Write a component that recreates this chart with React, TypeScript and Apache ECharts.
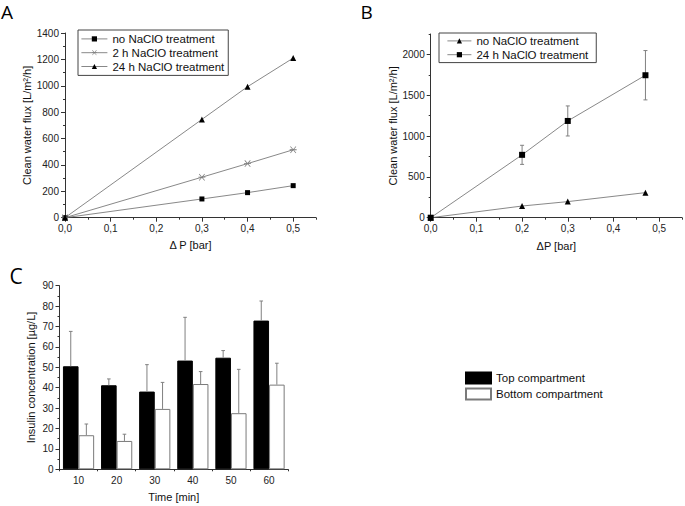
import React, { useEffect, useRef } from "react";
import * as echarts from "echarts";

// Panel A data
const pressureA = [0, 0.3, 0.4, 0.5];
const fluxNoA = [0, 142, 190, 243];
const flux2hA = [0, 307, 410, 515];
const flux24hA = [0, 745, 993, 1210];

// Panel B data
const pressureB = [0, 0.2, 0.3, 0.47];
const fluxNoB = [0, 143, 197, 307];
const flux24hB = [0, 770, 1185, 1745];
const err24hB = [0, 117, 184, 302];

// Panel C data
const timeCats = ["10", "20", "30", "40", "50", "60"];
const topVals = [50.5, 41.2, 38.1, 53.3, 54.7, 72.9];
const topErr = [17.1, 3.1, 13.2, 21.2, 3.5, 9.6];
const bottomVals = [16.7, 13.9, 29.6, 41.8, 27.5, 41.5];
const bottomErr = [5.5, 3.3, 13.0, 6.1, 21.5, 10.5];

// Tick labels
const xTicksAB = [0, 0.1, 0.2, 0.3, 0.4, 0.5];
const yTicksB = [0, 500, 1000, 1500, 2000];

const FONT = "'Liberation Sans', Arial, sans-serif";
const AX = "#333";

const ASTERISK =
  "path://M-0.87,-0.73 L0.73,0.87 L0.87,0.73 L-0.73,-0.87 Z M-0.87,0.73 L0.73,-0.87 L0.87,-0.73 L-0.73,0.87 Z M-1,-0.1 L1,-0.1 L1,0.1 L-1,0.1 Z";

const zip = (xs: number[], ys: number[]) => xs.map((x, i) => [x, ys[i]]);
const isMult = (v: number, step: number) =>
  Math.abs(v / step - Math.round(v / step)) < 1e-6;
const comma = (v: number) => v.toFixed(1).replace(".", ",");

function errRender(offsetPx: number, both: boolean, capHalf: number) {
  return (params: any, api: any) => {
    const x = api.value(0);
    const y = api.value(1);
    const e = api.value(2);
    if (!e) return null;
    const top = api.coord([x, y + e]);
    const base = api.coord([x, both ? y - e : y]);
    const cx = top[0] + offsetPx;
    const st = { stroke: "#808080", lineWidth: 1 };
    const children: any[] = [
      { type: "line", shape: { x1: cx, y1: top[1], x2: cx, y2: base[1] }, style: st },
      { type: "line", shape: { x1: cx - capHalf, y1: top[1], x2: cx + capHalf, y2: top[1] }, style: st },
    ];
    if (both) {
      children.push({
        type: "line",
        shape: { x1: cx - capHalf, y1: base[1], x2: cx + capHalf, y2: base[1] },
        style: st,
      });
    }
    return { type: "group", children };
  };
}

const labelStyle = { fontSize: 10, color: "#222", fontFamily: FONT };
const nameStyle = { fontSize: 11, color: "#111", fontFamily: FONT };
const lineAx = { lineStyle: { color: AX, width: 1 } };
const legendText = { fontSize: 11.5, lineHeight: 13.8, color: "#111", fontFamily: FONT };

export default function App() {
  const ref = useRef<HTMLDivElement>(null);
  useEffect(() => {
    if (!ref.current) return;
    const chart = echarts.init(ref.current, undefined, { renderer: "svg" });
    const barW = 15.6;
    const option: any = {
      animation: false,
      backgroundColor: "#fff",
      textStyle: { fontFamily: FONT },
      grid: [
        { left: 65, top: 33, width: 251, height: 184.7 },
        { left: 430.7, top: 34, width: 251.5, height: 183.7 },
        { left: 59.5, top: 285.7, width: 228.6, height: 183.6 },
      ],
      xAxis: [
        {
          type: "value", gridIndex: 0, min: 0, max: 0.55, interval: 0.05,
          axisLine: lineAx, splitLine: { show: false },
          axisTick: { length: 2, lineStyle: { color: AX } },
          axisLabel: { ...labelStyle, margin: 6, formatter: (v: number) => (isMult(v, 0.1) && v < 0.52 ? comma(v) : "") },
          name: "Δ P [bar]", nameLocation: "middle", nameGap: 22, nameTextStyle: nameStyle,
        },
        {
          type: "value", gridIndex: 0, min: 0, max: 0.55, interval: 0.1, position: "bottom",
          axisLine: { show: false }, splitLine: { show: false }, axisLabel: { show: false },
          axisTick: { show: true, length: 4, lineStyle: { color: AX }, customValues: xTicksAB },
        },
        {
          type: "value", gridIndex: 1, min: 0, max: 0.55, interval: 0.05,
          axisLine: lineAx, splitLine: { show: false },
          axisTick: { length: 2, lineStyle: { color: AX } },
          axisLabel: { ...labelStyle, margin: 6, formatter: (v: number) => (isMult(v, 0.1) && v < 0.52 ? comma(v) : "") },
          name: "ΔP [bar]", nameLocation: "middle", nameGap: 23, nameTextStyle: nameStyle,
        },
        {
          type: "value", gridIndex: 1, min: 0, max: 0.55, interval: 0.1, position: "bottom",
          axisLine: { show: false }, splitLine: { show: false }, axisLabel: { show: false },
          axisTick: { show: true, length: 4, lineStyle: { color: AX }, customValues: xTicksAB },
        },
        {
          type: "category", gridIndex: 2, data: timeCats,
          axisLine: lineAx,
          axisTick: { alignWithLabel: true, length: 4, lineStyle: { color: AX } },
          axisLabel: { ...labelStyle, margin: 6 },
          name: "Time [min]", nameLocation: "middle", nameGap: 22, nameTextStyle: nameStyle,
        },
        {
          type: "category", gridIndex: 2, data: timeCats, position: "bottom",
          axisLine: { show: false }, axisLabel: { show: false },
          axisTick: { show: true, length: 2, lineStyle: { color: AX } },
        },
      ],
      yAxis: [
        {
          type: "value", gridIndex: 0, min: 0, max: 1400, interval: 200,
          axisLine: { show: true, ...lineAx }, splitLine: { show: false },
          axisTick: { show: true, length: 4, lineStyle: { color: AX } },
          minorTick: { show: true, splitNumber: 2, length: 2, lineStyle: { color: AX } },
          axisLabel: { ...labelStyle, margin: 6, formatter: (v: number) => String(v) },
          name: "Clean water flux [L/m²/h]", nameLocation: "middle", nameGap: 30, nameTextStyle: nameStyle,
        },
        {
          type: "value", gridIndex: 1, min: 0, max: 2250, interval: 250,
          axisLine: { show: true, ...lineAx }, splitLine: { show: false },
          axisTick: { show: true, length: 2, lineStyle: { color: AX } },
          axisLabel: { ...labelStyle, margin: 6, formatter: (v: number) => (isMult(v, 500) && v <= 2000 ? String(v) : "") },
          name: "Clean water flux [L/m²/h]", nameLocation: "middle", nameGap: 29, nameTextStyle: nameStyle,
        },
        {
          type: "value", gridIndex: 1, min: 0, max: 2250, interval: 500, position: "left",
          axisLine: { show: false }, splitLine: { show: false }, axisLabel: { show: false },
          axisTick: { show: true, length: 4, lineStyle: { color: AX }, customValues: yTicksB },
        },
        {
          type: "value", gridIndex: 2, min: 0, max: 90, interval: 10,
          axisLine: { show: true, ...lineAx }, splitLine: { show: false },
          axisTick: { show: true, length: 4, lineStyle: { color: AX } },
          minorTick: { show: true, splitNumber: 2, length: 2, lineStyle: { color: AX } },
          axisLabel: { ...labelStyle, margin: 6 },
          name: "Insulin concentration [µg/L]", nameLocation: "middle", nameGap: 23, nameTextStyle: nameStyle,
        },
      ],
      legend: [
        {
          data: ["no NaClO treatment", "2 h NaClO treatment", "24 h NaClO treatment"],
          orient: "vertical", left: 78, top: 30, selectedMode: false,
          borderColor: "#444", borderWidth: 1, borderRadius: 0,
          padding: [2, 4, 2, 3], itemGap: 0, itemWidth: 26, itemHeight: 6.5,
          lineStyle: { width: 0.8 },
          textStyle: legendText,
        },
        {
          data: ["B no NaClO treatment", "B 24 h NaClO treatment"],
          formatter: (n: string) => n.slice(2),
          orient: "vertical", left: 439, top: 33, selectedMode: false,
          borderColor: "#444", borderWidth: 1, borderRadius: 0,
          padding: [1, 8, 1, 8], itemGap: 0, itemWidth: 24, itemHeight: 6.5,
          lineStyle: { width: 0.8 },
          textStyle: legendText,
        },
        {
          data: ["Top compartment", "Bottom compartment"],
          orient: "vertical", left: 465, top: 371.5, selectedMode: false,
          icon: "rect",
          padding: 0, itemGap: 3, itemWidth: 25, itemHeight: 11,
          textStyle: { fontSize: 11.5, color: "#111", fontFamily: FONT },
        },
      ],
      graphic: [
        { type: "text", x: 1, y: 12, style: { text: "A", fontSize: 19, fontFamily: "'Open Sans', sans-serif", fill: "#000", verticalAlign: "middle" } },
        { type: "text", x: 360.5, y: 12, style: { text: "B", fontSize: 19, fontFamily: "'Open Sans', sans-serif", fill: "#000", verticalAlign: "middle" } },
        { type: "text", x: 9.5, y: 276, style: { text: "C", fontSize: 21, fontFamily: "'Open Sans', sans-serif", fill: "#000", verticalAlign: "middle" } },
      ],
      series: [
        {
          type: "line", name: "no NaClO treatment", xAxisIndex: 0, yAxisIndex: 0,
          data: zip(pressureA, fluxNoA), symbol: "rect", symbolSize: 5,
          itemStyle: { color: "#000" }, lineStyle: { color: "#6a6a6a", width: 0.8 },
        },
        {
          type: "line", name: "2 h NaClO treatment", xAxisIndex: 0, yAxisIndex: 0,
          data: zip(pressureA, flux2hA), symbol: ASTERISK, symbolSize: 7,
          itemStyle: { color: "#7a7a7a" }, lineStyle: { color: "#6a6a6a", width: 0.8 },
        },
        {
          type: "line", name: "24 h NaClO treatment", xAxisIndex: 0, yAxisIndex: 0,
          data: zip(pressureA, flux24hA), symbol: "triangle", symbolSize: 6,
          itemStyle: { color: "#000" }, lineStyle: { color: "#6a6a6a", width: 0.8 },
        },
        {
          type: "line", name: "B no NaClO treatment", xAxisIndex: 2, yAxisIndex: 1,
          data: zip(pressureB, fluxNoB), symbol: "triangle", symbolSize: 6,
          itemStyle: { color: "#000" }, lineStyle: { color: "#6a6a6a", width: 0.8 },
        },
        {
          type: "line", name: "B 24 h NaClO treatment", xAxisIndex: 2, yAxisIndex: 1,
          data: zip(pressureB, flux24hB), symbol: "rect", symbolSize: 6,
          itemStyle: { color: "#000" }, lineStyle: { color: "#6a6a6a", width: 0.8 },
        },
        {
          type: "custom", name: "errB", xAxisIndex: 2, yAxisIndex: 1,
          data: pressureB.map((p, i) => [p, flux24hB[i], err24hB[i]]),
          encode: { x: 0, y: 1 },
          renderItem: errRender(0, true, 2),
          z: 1,
        },
        {
          type: "bar", name: "Top compartment", xAxisIndex: 4, yAxisIndex: 3,
          data: topVals, barWidth: barW, barGap: "0%",
          itemStyle: { color: "#000", borderColor: "#000", borderWidth: 1 },
        },
        {
          type: "bar", name: "Bottom compartment", xAxisIndex: 4, yAxisIndex: 3,
          data: bottomVals, barWidth: barW, barGap: "0%",
          itemStyle: { color: "#fff", borderColor: "#7a7a7a", borderWidth: 1 },
        },
        {
          type: "custom", name: "errTop", xAxisIndex: 4, yAxisIndex: 3,
          data: topVals.map((v, i) => [i, v, topErr[i]]),
          encode: { x: 0, y: 1 },
          renderItem: errRender(-barW / 2, false, 1.8),
          z: 3,
        },
        {
          type: "custom", name: "errBottom", xAxisIndex: 4, yAxisIndex: 3,
          data: bottomVals.map((v, i) => [i, v, bottomErr[i]]),
          encode: { x: 0, y: 1 },
          renderItem: errRender(barW / 2, false, 1.8),
          z: 3,
        },
      ],
    };
    chart.setOption(option);
    return () => chart.dispose();
  }, []);
  return (
    <div
      ref={ref}
      style={{ position: "fixed", left: 0, top: 0, width: 685, height: 506, background: "#fff" }}
    />
  );
}
